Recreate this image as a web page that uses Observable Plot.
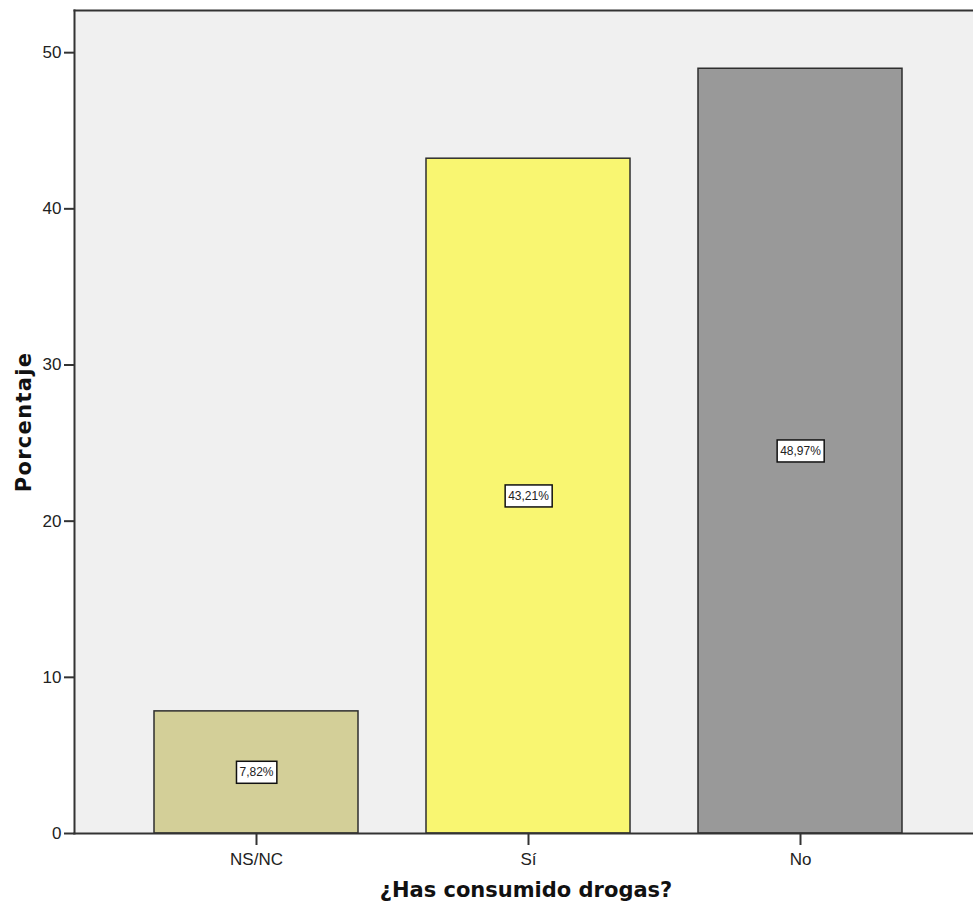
<!DOCTYPE html>
<html><head><meta charset="utf-8">
<script src="https://cdn.jsdelivr.net/npm/d3@7"></script>
<script src="https://cdn.jsdelivr.net/npm/@observablehq/plot@0.6"></script>
<style>body{margin:0;background:#fff;overflow:hidden}</style>
</head><body><div id="chart"></div><script>
const categories = ["NS/NC", "Sí", "No"];
const values = [7.82, 43.21, 48.97];
const colors = ["#d3cf98", "#f9f671", "#999999"];
const yTicks = [0, 10, 20, 30, 40, 50];
const xTitle = "¿Has consumido drogas?";
const yTitle = "Porcentaje";

const data = categories.map((c, i) => ({
  cat: c,
  value: values[i],
  label: values[i].toFixed(2).replace(".", ",") + "%"
}));

const titleFont = "'DejaVu Sans', Verdana, sans-serif";

const chart = Plot.plot({
  width: 973, height: 914,
  marginLeft: 74, marginRight: 0, marginTop: 10, marginBottom: 81,
  style: {fontFamily: "'Liberation Sans', Arial, sans-serif", fontSize: "17px", background: "#fff", overflow: "hidden", color: "#222"},
  x: {domain: categories, range: [74, 982], paddingInner: 0.25, paddingOuter: 0.294, label: null},
  y: {domain: [0, 52.7], label: null},
  color: {domain: categories, range: colors},
  marks: [
    Plot.frame({fill: "#f0f0f0", stroke: null}),
    Plot.barY(data, {x: "cat", y: "value", fill: "cat", stroke: "#2e2e2e", strokeWidth: 1.5}),
    Plot.text(data, {x: "cat", y: d => d.value / 2, text: "label", fontSize: 12, fill: "#222", className: "vlabels"}),
    Plot.frame({anchor: "left", stroke: "#333", strokeWidth: 2}),
    Plot.frame({anchor: "top", stroke: "#333", strokeWidth: 2}),
    Plot.frame({anchor: "bottom", stroke: "#333", strokeWidth: 2}),
    Plot.axisY(yTicks, {tickSize: 10, tickPadding: 3, fontSize: 17, label: null, stroke: "#333", strokeWidth: 2}),
    Plot.axisX({tickSize: 12, tickPadding: 7, fontSize: 17, label: null, stroke: "#333", strokeWidth: 2}),
    Plot.text([yTitle], {frameAnchor: "left", textAnchor: "middle", dx: -50, rotate: -90, fontSize: 21, fontWeight: "bold", fontFamily: titleFont, fill: "#111", className: "ytitle"}),
    Plot.text([xTitle], {frameAnchor: "bottom", textAnchor: "middle", dx: 2, dy: 63, fontSize: 21, fontWeight: "bold", fontFamily: titleFont, fill: "#111"})
  ]
});
document.getElementById("chart").appendChild(chart);

const svg = d3.select(chart.tagName.toLowerCase() === "svg" ? chart : chart.querySelector("svg"));
svg.selectAll("g.ytitle text").style("letter-spacing", "1.3px");

// white boxes behind value labels
svg.selectAll("g.vlabels text").each(function() {
  const b = this.getBBox();
  const r = document.createElementNS("http://www.w3.org/2000/svg", "rect");
  r.setAttribute("x", b.x - 3);
  r.setAttribute("y", b.y - 4);
  r.setAttribute("width", b.width + 6);
  r.setAttribute("height", b.height + 8);
  r.setAttribute("fill", "#fff");
  r.setAttribute("stroke", "#111");
  r.setAttribute("stroke-width", 1.5);
  const t = this.getAttribute("transform");
  if (t) r.setAttribute("transform", t);
  this.parentNode.insertBefore(r, this);
});
</script></body></html>
